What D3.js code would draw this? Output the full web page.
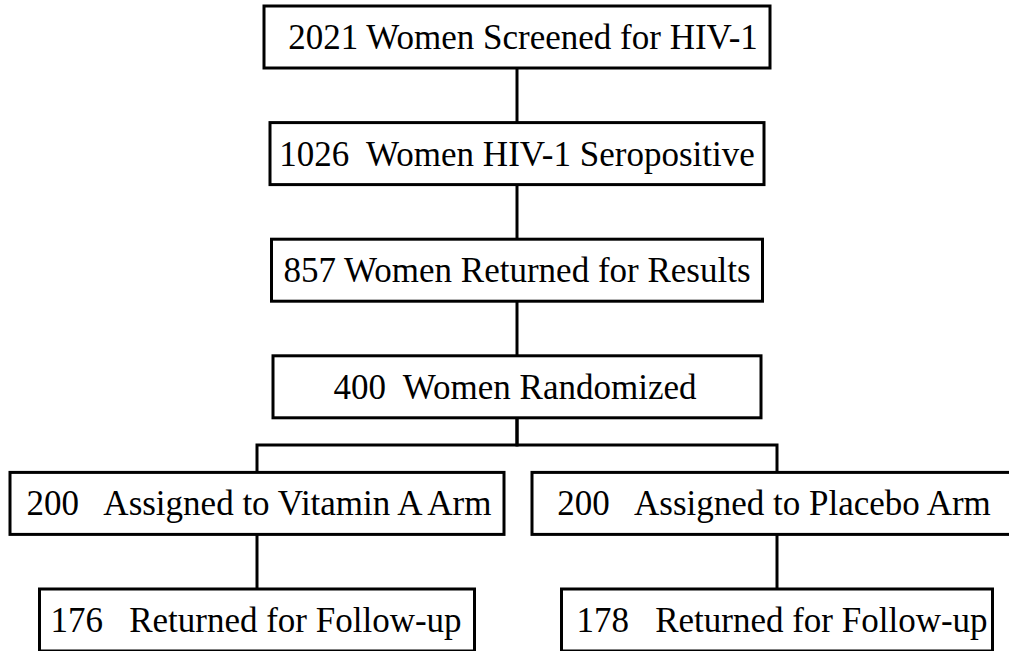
<!DOCTYPE html>
<html>
<head>
<meta charset="utf-8">
<script src="https://cdn.jsdelivr.net/npm/d3@7"></script>
<style>
  html, body { margin: 0; padding: 0; background: #fff; overflow: hidden; }
  text { font-family: "Liberation Serif", "Times New Roman", serif; white-space: pre; }
</style>
</head>
<body>
<svg id="chart" width="1009" height="651"></svg>
<script>
// flow steps, top to bottom
var labels = [
    "2021 Women Screened for HIV-1",
    "1026  Women HIV-1 Seropositive",
    "857 Women Returned for Results",
    "400  Women Randomized",
    "200   Assigned to Vitamin A Arm",
    "200   Assigned to Placebo Arm",
    "176   Returned for Follow-up",
    "178   Returned for Follow-up"
];
var counts = [2021, 1026, 857, 400, 200, 200, 176, 178];
var rows = [0, 1, 2, 3, 4, 4, 5, 5];
var cols = ["mid", "mid", "mid", "mid", "left", "right", "left", "right"];
// parent of each step (index), -1 for root
var parents = [-1, 0, 1, 2, 3, 3, 4, 5];

// layout only
var boxWidths = [506, 494, 491, 488, 494, 490, 435, 431];
var textShift = [6, 0, 0, -2, 2, -3, -1, 5];
var boxHeight = 62;

function render_flow()
{
    let svg = d3.select("#chart");

    let y = d3.scaleLinear().domain([0, 5]).range([6, 589]);
    let x = d3.scaleOrdinal().domain(["left", "mid", "right"]).range([257, 517, 777]);

    let nodes = labels.map(function(l, i) {
        return { label: l, count: counts[i], row: rows[i], col: cols[i],
                 parent: parents[i], w: boxWidths[i], dx: textShift[i] };
    });

    let g = svg.append("g");

    // connectors
    nodes.forEach(function(d, i) {
        if (d.parent < 0) return;
        let p = nodes[d.parent];
        let top = y(d.row);
        let pBottom = y(p.row) + boxHeight;
        let cx = x(d.col), px = x(p.col);
        let path;
        if (cx === px) {
            path = "M" + cx + "," + pBottom + "V" + top;
        } else {
            let mid = (pBottom + top) / 2;
            path = "M" + px + "," + pBottom + "V" + mid + "H" + cx + "V" + top;
        }
        g.append("path")
            .attr("d", path)
            .attr("fill", "none")
            .attr("stroke", "#000")
            .attr("stroke-width", 3);
    });

    let box = g.selectAll("g.box")
        .data(nodes)
        .enter()
        .append("g")
            .attr("class", "box");

    box.append("rect")
        .attr("x", d => x(d.col) - d.w / 2)
        .attr("y", d => y(d.row))
        .attr("width", d => d.w)
        .attr("height", boxHeight)
        .attr("fill", "#fff")
        .attr("stroke", "#000")
        .attr("stroke-width", 3);

    box.append("text")
        .attr("x", d => x(d.col) + d.dx)
        .attr("y", d => y(d.row) + boxHeight / 2 + 12)
        .attr("text-anchor", "middle")
        .attr("font-size", 35)
        .attr("fill", "#000")
        .text(d => d.label);
}

render_flow();
</script>
</body>
</html>
